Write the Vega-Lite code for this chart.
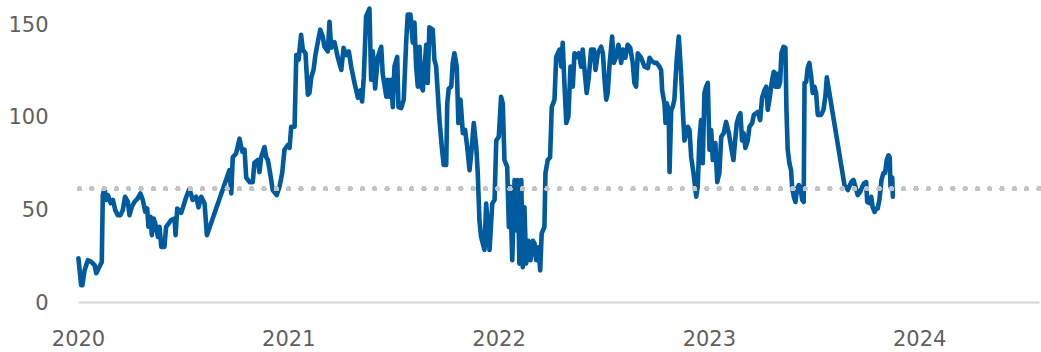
{
  "$schema": "https://vega.github.io/schema/vega-lite/v6.json",
  "width": 961,
  "height": 297,
  "autosize": {"type": "none"},
  "padding": {"left": 78, "top": 5, "right": 2, "bottom": 50},
  "background": "white",
  "config": {"view": {"stroke": null}},
  "data": {"values": [
    {"t":2020.002,"v":23.6},{"t":2020.015,"v":9},{"t":2020.021,"v":9},{"t":2020.031,"v":17},{"t":2020.047,"v":22.5},{"t":2020.063,"v":21.6},{"t":2020.079,"v":19.8},{"t":2020.087,"v":15.5},{"t":2020.102,"v":19},{"t":2020.113,"v":21.6},
    {"t":2020.118,"v":57.6},{"t":2020.126,"v":61.2},{"t":2020.134,"v":55},{"t":2020.142,"v":57.6},{"t":2020.155,"v":53.3},{"t":2020.166,"v":55},{"t":2020.177,"v":49.5},{"t":2020.189,"v":46.8},{"t":2020.202,"v":46.8},{"t":2020.213,"v":49.5},
    {"t":2020.224,"v":56.7},{"t":2020.237,"v":54},{"t":2020.245,"v":46.8},{"t":2020.256,"v":51.3},{"t":2020.269,"v":54},{"t":2020.284,"v":55.8},{"t":2020.297,"v":58.5},{"t":2020.308,"v":55},{"t":2020.320,"v":48.6},{"t":2020.329,"v":50.4},
    {"t":2020.335,"v":40.5},{"t":2020.345,"v":45.9},{"t":2020.351,"v":36},{"t":2020.360,"v":45},{"t":2020.372,"v":40.5},{"t":2020.380,"v":35.1},{"t":2020.388,"v":40.5},{"t":2020.396,"v":29.7},{"t":2020.411,"v":29.7},{"t":2020.419,"v":40.5},
    {"t":2020.443,"v":44.1},{"t":2020.459,"v":45},{"t":2020.464,"v":36},{"t":2020.472,"v":50.4},{"t":2020.491,"v":48},{"t":2020.515,"v":56.7},{"t":2020.530,"v":61},{"t":2020.545,"v":55},{"t":2020.562,"v":56.7},{"t":2020.573,"v":51},
    {"t":2020.586,"v":56.7},{"t":2020.602,"v":53},{"t":2020.613,"v":36},{"t":2020.720,"v":71},{"t":2020.729,"v":58.5},{"t":2020.736,"v":78},{"t":2020.752,"v":80},{"t":2020.768,"v":88},{"t":2020.781,"v":81},{"t":2020.792,"v":82},
    {"t":2020.800,"v":67},{"t":2020.816,"v":64.6},{"t":2020.831,"v":64.6},{"t":2020.839,"v":75},{"t":2020.855,"v":76.5},{"t":2020.863,"v":70},{"t":2020.871,"v":78},{"t":2020.887,"v":83.5},{"t":2020.895,"v":78},{"t":2020.903,"v":76.5},
    {"t":2020.919,"v":65.7},{"t":2020.926,"v":60.3},{"t":2020.945,"v":57.6},{"t":2020.958,"v":62},{"t":2020.971,"v":69.5},{"t":2020.982,"v":82},{"t":2020.998,"v":84.6},{"t":2021.006,"v":83},{"t":2021.014,"v":94.4},{"t":2021.030,"v":94.4},
    {"t":2021.038,"v":133},{"t":2021.049,"v":130.5},{"t":2021.061,"v":144},{"t":2021.069,"v":136},{"t":2021.082,"v":134},{"t":2021.093,"v":111.7},{"t":2021.101,"v":112.7},{"t":2021.109,"v":121},{"t":2021.120,"v":125},{"t":2021.129,"v":133},
    {"t":2021.140,"v":139.7},{"t":2021.152,"v":146.7},{"t":2021.164,"v":143},{"t":2021.172,"v":137.5},{"t":2021.188,"v":135},{"t":2021.196,"v":151},{"t":2021.204,"v":137},{"t":2021.220,"v":140},{"t":2021.235,"v":132},{"t":2021.252,"v":125},
    {"t":2021.263,"v":137},{"t":2021.275,"v":133},{"t":2021.288,"v":135},{"t":2021.299,"v":126.8},{"t":2021.315,"v":118},{"t":2021.331,"v":110},{"t":2021.343,"v":114},{"t":2021.351,"v":108},{"t":2021.359,"v":121},{"t":2021.370,"v":153.8},
    {"t":2021.378,"v":155.9},{"t":2021.386,"v":158},{"t":2021.394,"v":119.7},{"t":2021.402,"v":135},{"t":2021.413,"v":115},{"t":2021.426,"v":132},{"t":2021.442,"v":137.5},{"t":2021.449,"v":123},{"t":2021.466,"v":110.6},{"t":2021.473,"v":119.7},
    {"t":2021.481,"v":110.6},{"t":2021.489,"v":119.7},{"t":2021.497,"v":105},{"t":2021.505,"v":127},{"t":2021.518,"v":132},{"t":2021.524,"v":105},{"t":2021.537,"v":104.5},{"t":2021.549,"v":109},{"t":2021.561,"v":141},{"t":2021.568,"v":154.8},
    {"t":2021.581,"v":154.8},{"t":2021.592,"v":139.7},{"t":2021.600,"v":150.5},{"t":2021.608,"v":126.8},{"t":2021.616,"v":116},{"t":2021.624,"v":137.5},{"t":2021.632,"v":116},{"t":2021.640,"v":114},{"t":2021.648,"v":127},{"t":2021.656,"v":138.6},
    {"t":2021.663,"v":118},{"t":2021.671,"v":148},{"t":2021.687,"v":146.7},{"t":2021.695,"v":130.5},{"t":2021.703,"v":127},{"t":2021.711,"v":112.6},{"t":2021.719,"v":98},{"t":2021.730,"v":83.5},{"t":2021.739,"v":73.8},{"t":2021.751,"v":73.8},
    {"t":2021.756,"v":107},{"t":2021.763,"v":115},{"t":2021.775,"v":116},{"t":2021.782,"v":128.8},{"t":2021.790,"v":134},{"t":2021.801,"v":127},{"t":2021.809,"v":96.4},{"t":2021.819,"v":109},{"t":2021.830,"v":91},{"t":2021.841,"v":92.7},
    {"t":2021.851,"v":83.5},{"t":2021.862,"v":71},{"t":2021.873,"v":83.5},{"t":2021.882,"v":96.4},{"t":2021.894,"v":83.5},{"t":2021.901,"v":69.5},{"t":2021.909,"v":44},{"t":2021.917,"v":35},{"t":2021.933,"v":28},{"t":2021.941,"v":53},
    {"t":2021.957,"v":28},{"t":2021.970,"v":53},{"t":2021.981,"v":55},{"t":2021.989,"v":87},{"t":2022.001,"v":89},{"t":2022.012,"v":110.6},{"t":2022.020,"v":107},{"t":2022.028,"v":76.5},{"t":2022.041,"v":72.8},{"t":2022.049,"v":40.4},
    {"t":2022.055,"v":62},{"t":2022.065,"v":22.5},{"t":2022.076,"v":65.7},{"t":2022.084,"v":38.7},{"t":2022.091,"v":65.7},{"t":2022.099,"v":20.7},{"t":2022.108,"v":65.7},{"t":2022.115,"v":18.8},{"t":2022.123,"v":51},{"t":2022.131,"v":20.7},
    {"t":2022.142,"v":33},{"t":2022.152,"v":22.5},{"t":2022.163,"v":33},{"t":2022.171,"v":31.5},{"t":2022.179,"v":22.5},{"t":2022.190,"v":29.5},{"t":2022.198,"v":17},{"t":2022.205,"v":37},{"t":2022.218,"v":40.4},{"t":2022.223,"v":69.5},
    {"t":2022.234,"v":76.5},{"t":2022.245,"v":78},{"t":2022.253,"v":105},{"t":2022.266,"v":109},{"t":2022.274,"v":132},{"t":2022.290,"v":136},{"t":2022.298,"v":126.8},{"t":2022.305,"v":139.7},{"t":2022.313,"v":118},{"t":2022.322,"v":96.4},
    {"t":2022.332,"v":100},{"t":2022.342,"v":126.8},{"t":2022.353,"v":116},{"t":2022.361,"v":134},{"t":2022.372,"v":132},{"t":2022.381,"v":134},{"t":2022.393,"v":126.8},{"t":2022.400,"v":136},{"t":2022.412,"v":121},{"t":2022.419,"v":112.6},
    {"t":2022.429,"v":121},{"t":2022.440,"v":136},{"t":2022.453,"v":136},{"t":2022.461,"v":125},{"t":2022.472,"v":134},{"t":2022.488,"v":137.5},{"t":2022.496,"v":134},{"t":2022.504,"v":119.7},{"t":2022.512,"v":109},{"t":2022.519,"v":112.6},
    {"t":2022.527,"v":126.8},{"t":2022.540,"v":143},{"t":2022.548,"v":128.8},{"t":2022.559,"v":132},{"t":2022.570,"v":138.6},{"t":2022.583,"v":128.8},{"t":2022.591,"v":136},{"t":2022.603,"v":131.6},{"t":2022.614,"v":138.6},{"t":2022.626,"v":137},
    {"t":2022.638,"v":128.8},{"t":2022.646,"v":118},{"t":2022.654,"v":116},{"t":2022.662,"v":134},{"t":2022.678,"v":131.6},{"t":2022.694,"v":126.8},{"t":2022.710,"v":126},{"t":2022.718,"v":131.6},{"t":2022.730,"v":129.7},{"t":2022.741,"v":128.8},
    {"t":2022.752,"v":128.8},{"t":2022.765,"v":126.8},{"t":2022.773,"v":125},{"t":2022.778,"v":114},{"t":2022.789,"v":107},{"t":2022.794,"v":96.4},{"t":2022.800,"v":107},{"t":2022.809,"v":103.5},{"t":2022.813,"v":70},{"t":2022.821,"v":103.5},
    {"t":2022.828,"v":105},{"t":2022.836,"v":109},{"t":2022.847,"v":130.5},{"t":2022.857,"v":143},{"t":2022.868,"v":123},{"t":2022.876,"v":103.5},{"t":2022.884,"v":87},{"t":2022.900,"v":94.4},{"t":2022.908,"v":92.7},{"t":2022.916,"v":78},
    {"t":2022.927,"v":69.5},{"t":2022.940,"v":56.7},{"t":2022.947,"v":62},{"t":2022.955,"v":87},{"t":2022.963,"v":98},{"t":2022.971,"v":74.8},{"t":2022.979,"v":112.6},{"t":2022.987,"v":116},{"t":2022.995,"v":118},{"t":2023.003,"v":82},
    {"t":2023.011,"v":92.7},{"t":2023.019,"v":76.5},{"t":2023.031,"v":85.6},{"t":2023.040,"v":64.6},{"t":2023.050,"v":69.5},{"t":2023.059,"v":89},{"t":2023.071,"v":91},{"t":2023.082,"v":97},{"t":2023.095,"v":91},{"t":2023.106,"v":83.5},
    {"t":2023.117,"v":76.5},{"t":2023.125,"v":87},{"t":2023.133,"v":96.4},{"t":2023.142,"v":100},{"t":2023.150,"v":101.7},{"t":2023.158,"v":87},{"t":2023.165,"v":91},{"t":2023.174,"v":83},{"t":2023.185,"v":87},{"t":2023.193,"v":94.4},
    {"t":2023.206,"v":96.4},{"t":2023.214,"v":100.8},{"t":2023.225,"v":101.7},{"t":2023.233,"v":102.4},{"t":2023.244,"v":98},{"t":2023.253,"v":110},{"t":2023.264,"v":114},{"t":2023.273,"v":116},{"t":2023.280,"v":103.5},{"t":2023.288,"v":109},
    {"t":2023.301,"v":119.7},{"t":2023.309,"v":124},{"t":2023.317,"v":116},{"t":2023.325,"v":123},{"t":2023.332,"v":116},{"t":2023.339,"v":118.6},{"t":2023.345,"v":134},{"t":2023.355,"v":137.5},{"t":2023.364,"v":137},{"t":2023.369,"v":103.5},
    {"t":2023.375,"v":82},{"t":2023.383,"v":74.8},{"t":2023.391,"v":71},{"t":2023.396,"v":62},{"t":2023.404,"v":56.7},{"t":2023.412,"v":53.9},{"t":2023.420,"v":61.3},{"t":2023.428,"v":63},{"t":2023.436,"v":61.3},{"t":2023.444,"v":55},
    {"t":2023.451,"v":53.9},{"t":2023.455,"v":118},{"t":2023.463,"v":118.6},{"t":2023.470,"v":126},{"t":2023.478,"v":128.8},{"t":2023.487,"v":121},{"t":2023.494,"v":112.6},{"t":2023.502,"v":116},{"t":2023.510,"v":112.6},{"t":2023.518,"v":100.8},
    {"t":2023.534,"v":100.8},{"t":2023.545,"v":103.5},{"t":2023.554,"v":110.6},{"t":2023.561,"v":121},{"t":2023.645,"v":63},{"t":2023.661,"v":60.3},{"t":2023.677,"v":64.6},{"t":2023.688,"v":65.7},{"t":2023.697,"v":62},{"t":2023.708,"v":57.6},
    {"t":2023.719,"v":59.2},{"t":2023.729,"v":62},{"t":2023.738,"v":64},{"t":2023.748,"v":64.6},{"t":2023.753,"v":53.9},{"t":2023.764,"v":53.3},{"t":2023.772,"v":56.7},{"t":2023.779,"v":51},{"t":2023.788,"v":48.5},{"t":2023.796,"v":50.4},
    {"t":2023.803,"v":50.4},{"t":2023.811,"v":55},{"t":2023.821,"v":65.7},{"t":2023.830,"v":69.5},{"t":2023.838,"v":69.5},{"t":2023.846,"v":76.5},{"t":2023.854,"v":79},{"t":2023.860,"v":78},{"t":2023.864,"v":62},{"t":2023.872,"v":67},
    {"t":2023.875,"v":56.7}
  ]},
  "layer": [
    {
      "mark": {"type": "line", "color": "#005a9e", "strokeWidth": 4.6, "strokeJoin": "round", "strokeCap": "round"},
      "encoding": {
        "x": {"field": "t", "type": "quantitative",
          "scale": {"domain": [2020, 2024.57], "nice": false, "zero": false},
          "axis": {"title": null, "values": [2020, 2021, 2022, 2023, 2024], "format": "d", "grid": false, "ticks": false,
            "domain": true, "domainColor": "#d6d6d6", "domainWidth": 2,
            "labelFont": "DejaVu Sans", "labelFontSize": 21, "labelColor": "#5f5f5f",
            "labelBaseline": "middle", "labelPadding": 37, "labelFlush": false}},
        "y": {"field": "v", "type": "quantitative",
          "scale": {"domain": [0, 160], "nice": false},
          "axis": {"title": null, "values": [0, 50, 100, 150], "grid": false, "ticks": false, "domain": false,
            "labelFont": "DejaVu Sans", "labelFontSize": 21, "labelColor": "#5f5f5f",
            "labelBaseline": "middle", "labelPadding": 30, "labelOffset": 1.5}}
      }
    },
    {
      "mark": {"type": "rule", "color": "#c4c4c4", "strokeWidth": 4.5, "strokeCap": "round", "strokeDash": [0.1, 12.2]},
      "encoding": {"y": {"datum": 61}}
    }
  ]
}
